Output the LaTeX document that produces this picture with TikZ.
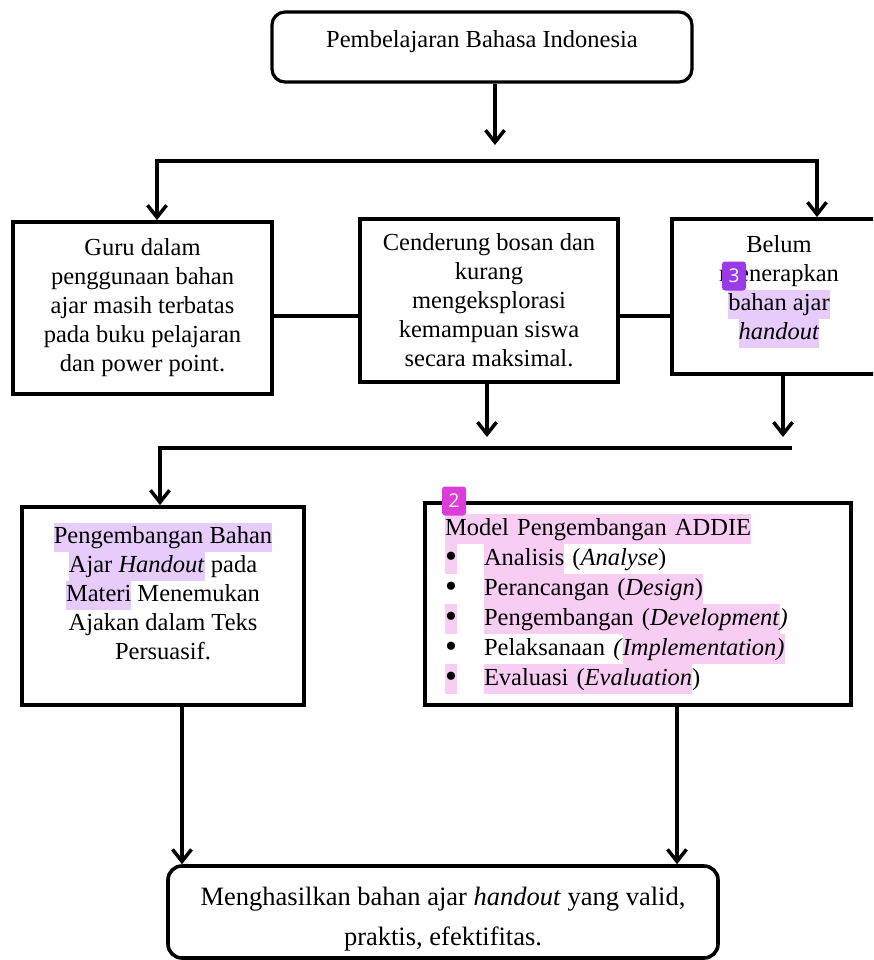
\documentclass[tikz,border=0pt]{standalone}
\usepackage{fontspec}
\setmainfont{Liberation Serif}
\newfontfamily\badgefont{Open Sans}
\usepackage{xcolor}
\usetikzlibrary{arrows.meta}
\definecolor{hlvio}{HTML}{E7CCFB}
\definecolor{hlpnk}{HTML}{F8CDF3}
\definecolor{bdgvio}{HTML}{9B3BE6}
\definecolor{bdgpnk}{HTML}{DA3DD8}
\newcommand{\hlvio}[1]{{\setlength{\fboxsep}{0pt}\colorbox{hlvio}{\strut#1}}}
\newcommand{\hlpnk}[1]{{\setlength{\fboxsep}{0pt}\colorbox{hlpnk}{\strut#1}}}
\newcommand{\itm}[1]{\makebox[39pt][l]{#1}}
\newcommand{\bul}{\smash{\raisebox{-2.5pt}{\fontsize{34}{30}\selectfont\textbullet}}}

\begin{document}
\begin{tikzpicture}[x=1pt,y=-1pt,
  >={Straight Barb[length=12pt,width=19pt]},
  box/.style={draw,fill=white,line width=3.8pt,inner sep=0pt,align=center,
    font=\fontsize{24.5}{29}\selectfont},
  rbox/.style={box,rounded corners=13pt,line width=3.2pt},
  ln/.style={line width=3.5pt},
  badge/.style={rounded corners=3pt,minimum width=24pt,minimum height=29pt,
    inner sep=0pt,text=white,font=\badgefont\fontsize{19}{19}\selectfont}]
  \useasboundingbox (0,0) rectangle (873,960);
  \clip (0,0) rectangle (873,960);
  \fill[white] (0,0) rectangle (873,960);

  % boxes
  \node[rbox,minimum width=420pt,minimum height=70pt] (top) at (482,47)
    {Pembelajaran Bahasa Indonesia\\[-14pt]\mbox{}};
  \node[box,minimum width=259pt,minimum height=172pt] (guru) at (142.5,308)
    {Guru dalam\\penggunaan bahan\\ajar masih terbatas\\pada buku pelajaran\\dan power point.};
  \node[box,minimum width=258pt,minimum height=163pt] (bosan) at (489,300.5)
    {Cenderung bosan dan\\kurang\\mengeksplorasi\\kemampuan siswa\\secara maksimal.};
  \node[box,minimum width=214pt,minimum height=155pt] (belum) at (779,296.5)
    {Belum\\menerapkan\\\hlvio{bahan ajar}\\\hlvio{\textit{handout}}\\[-11pt]\mbox{}};
  \node[box,minimum width=282pt,minimum height=198pt] (hand) at (163,606)
    {\hlvio{Pengembangan Bahan}\\\hlvio{Ajar \textit{Handout}} pada\\\hlvio{Materi} Menemukan\\Ajakan dalam Teks\\Persuasif.\\\mbox{}};
  \node[box,align=left,minimum width=426pt,minimum height=202pt,text width=386pt,
    font=\fontsize{24.5}{30}\selectfont] (addie) at (638,604)
    {\hlpnk{Model Pengembangan ADDIE}\\
     \itm{\hlpnk{\bul}}\hlpnk{Analisis} (\textit{Analyse})\\
     \itm{\bul}\hlpnk{Perancangan (\textit{Design})}\\
     \itm{\hlpnk{\bul}}\hlpnk{Pengembangan (\textit{Development}}\textit{)}\\
     \itm{\bul}Pelaksanaan \textit{(}\hlpnk{\textit{Implementation)}}\\
     \itm{\hlpnk{\bul}}\hlpnk{Evaluasi (\textit{Evaluation}})};
  \node[rbox,minimum width=550pt,minimum height=92pt,rounded corners=14pt,line width=3.6pt,
    font=\fontsize{26.5}{40}\selectfont] (res) at (443,912)
    {\mbox{}\\[-8pt]Menghasilkan bahan ajar \textit{handout} yang valid,\\praktis, efektifitas.};

  % connectors
  \coordinate (t1) at (495,145);
  \coordinate (s1) at (157,161); \coordinate (s2) at (817,161);
  \coordinate (m) at (0,316);
  \coordinate (u1) at (487,437); \coordinate (u2) at (783,437);
  \coordinate (v1) at (160,448); \coordinate (v2) at (792,448);
  \coordinate (w1) at (182,0); \coordinate (w2) at (677,0);
  \draw[ln,->] (top.south -| t1) -- (t1);
  \draw[ln,<->] (guru.north -| s1) -- (s1) -- (s2) -- (belum.north -| s2);
  \draw[ln] (guru.east |- m) -- (bosan.west |- m);
  \draw[ln] (bosan.east |- m) -- (belum.west |- m);
  \draw[ln,->] (bosan.south -| u1) -- (u1);
  \draw[ln,->] (belum.south -| u2) -- (u2);
  \draw[ln,->] (v2) -- (v1) -- (hand.north -| v1);
  \draw[ln,->] (hand.south -| w1) -- (res.north -| w1);
  \draw[ln,->] (addie.south -| w2) -- (res.north -| w2);

  % badges
  \node[badge,fill=bdgvio] (bdg3) at (734,276) {3};
  \node[badge,fill=bdgpnk] (bdg2) at (454,501) {2};
\end{tikzpicture}
\end{document}
